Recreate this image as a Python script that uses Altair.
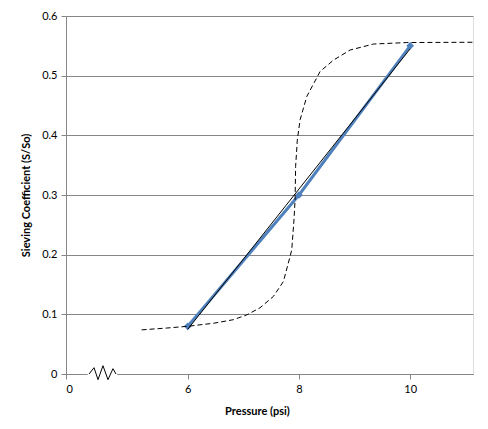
import altair as alt
import pandas as pd

# measured series (blue with diamond markers)
pressure = [6, 8, 10]
sieving = [0.08, 0.30, 0.55]

# dashed sigmoid-like curve
curve_p = [5.17, 5.62, 6.0, 6.46, 6.82, 6.94, 7.06, 7.30, 7.54, 7.72, 7.84, 7.87,
           7.91, 7.93, 7.94, 7.97, 8.02, 8.14, 8.38, 8.62, 8.92, 9.34, 9.94, 11.13]
curve_v = [0.074, 0.077, 0.080, 0.085, 0.091, 0.095, 0.099, 0.111, 0.130, 0.155, 0.197, 0.208,
           0.258, 0.292, 0.348, 0.392, 0.426, 0.465, 0.507, 0.526, 0.543, 0.553, 0.5555, 0.556]

# axis-break zigzag symbol
break_p = [4.224, 4.314, 4.386, 4.475, 4.565, 4.655, 4.709]
break_v = [0.0, 0.0106, -0.0095, 0.0139, -0.0095, 0.0089, 0.0]
cover_p = [4.20, 4.73]

x_domain = [3.81, 11.13]
x_ticks = [3.81, 6, 8, 10]
y_ticks = [0, 0.1, 0.2, 0.3, 0.4, 0.5, 0.6]

FONT = "Lato"
GRAY = "#868686"
BLUE = "#4F81BD"

meas = pd.DataFrame({"p": pressure, "v": sieving})
curve = pd.DataFrame({"p": curve_p, "v": curve_v, "o": list(range(len(curve_p)))})
zig = pd.DataFrame({"p": break_p, "v": break_v, "o": list(range(len(break_p)))})
cover = pd.DataFrame({"p": cover_p, "v": [0, 0]})

xs = alt.Scale(domain=x_domain, nice=False, zero=False)
ys = alt.Scale(domain=[0, 0.6], nice=False)

xaxis = alt.Axis(values=x_ticks, labelExpr="datum.value < 5 ? '0' : format(datum.value, 'd')",
                 title="Pressure (psi)", grid=False, domainColor=GRAY, tickColor=GRAY,
                 tickSize=5, labelFont=FONT, labelFontSize=11, labelColor="#000000",
                 labelPadding=4, titleFont=FONT, titleFontSize=11, titleFontWeight="bold",
                 titleColor="#000000", titleX=191, titleY=37, titleBaseline="middle")
yaxis = alt.Axis(values=y_ticks, labelExpr="datum.value == 0 ? '0' : format(datum.value, '.1f')",
                 title="Sieving Coefficient  (S/So)", grid=True, gridColor=GRAY,
                 domainColor=GRAY, tickColor=GRAY, tickSize=5, labelFont=FONT,
                 labelFontSize=11, labelColor="#000000", labelPadding=4,
                 titleFont=FONT, titleFontSize=11, titleFontWeight="bold",
                 titleColor="#000000", titleX=-40, titleY=179, titleAngle=-90,
                 titleAlign="center", titleBaseline="middle")

base_x = alt.X("p:Q", scale=xs, axis=xaxis)
base_y = alt.Y("v:Q", scale=ys, axis=yaxis)

blue_line = alt.Chart(meas).mark_line(color=BLUE, strokeWidth=3).encode(x=base_x, y=base_y)
blue_pts = alt.Chart(meas).mark_point(shape="diamond", filled=True, color=BLUE, size=60,
                                       opacity=1).encode(x="p:Q", y="v:Q")
trend = alt.Chart(meas).transform_regression("p", "v", method="linear", extent=[6, 10]).mark_line(
    color="#000000", strokeWidth=1).encode(x="p:Q", y="v:Q")
dashed = alt.Chart(curve).mark_line(color="#000000", strokeWidth=1, strokeDash=[5, 3]).encode(
    x="p:Q", y="v:Q", order="o:Q")
cover_line = alt.Chart(cover).mark_line(color="white", strokeWidth=3).encode(x="p:Q", y="v:Q")
zig_line = alt.Chart(zig).mark_line(color="#000000", strokeWidth=1).encode(
    x="p:Q", y="v:Q", order="o:Q")

chart = alt.layer(blue_line, blue_pts, trend, dashed, cover_line, zig_line).properties(
    width=407, height=358,
    autosize=alt.AutoSizeParams(type="none"),
    padding={"left": 58, "top": 8, "right": 7, "bottom": 47},
).configure_view(stroke=None).configure(background="white")

chart.save("out.html", embed_options={"renderer": "svg", "actions": False})
